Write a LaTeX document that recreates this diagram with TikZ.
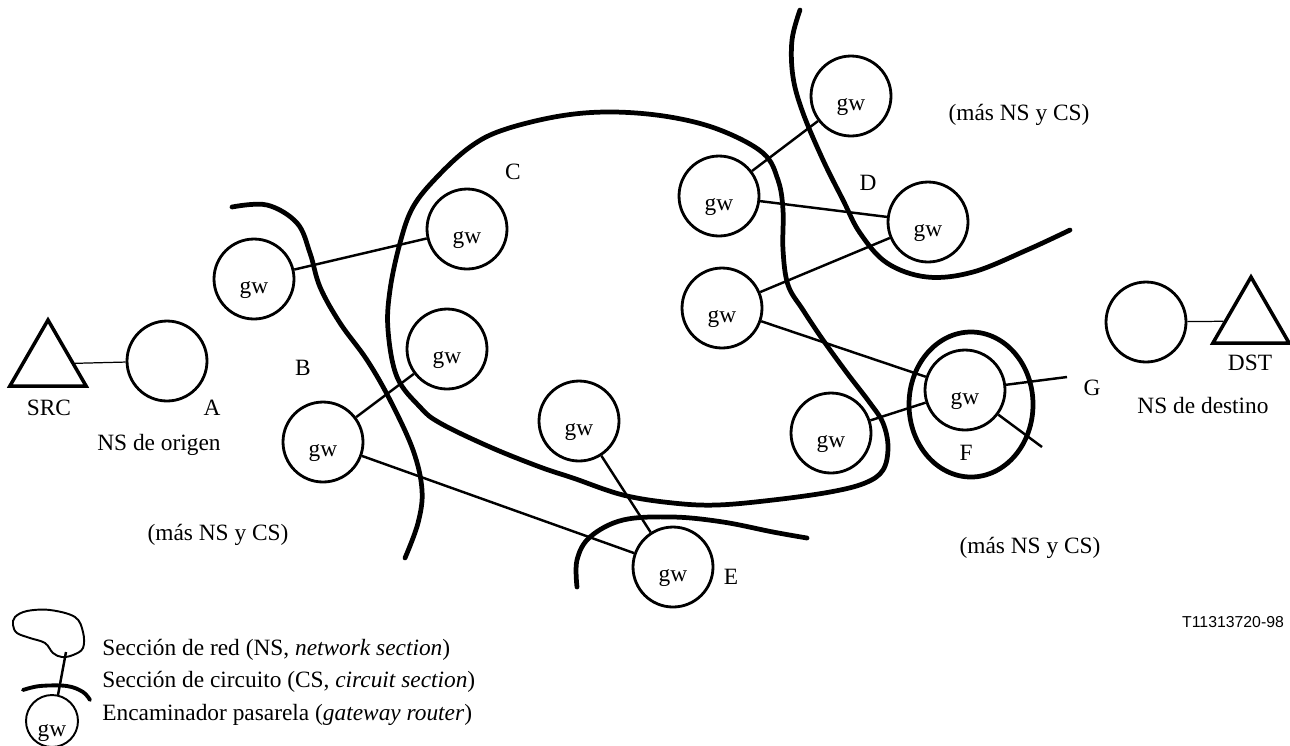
\documentclass[tikz,border=0pt]{standalone}
\usepackage{fontspec}
\setmainfont{Liberation Serif}
\newfontfamily\sansf{Liberation Sans}
\usetikzlibrary{shapes.geometric}
\begin{document}
\begin{tikzpicture}[x=0.02cm,y=-0.02cm,
  every node/.style={font=\fontsize{13.3}{16}\selectfont},
  gw/.style={circle,draw,line width=1.6pt,minimum size=1.6cm,inner sep=0pt,text height=16pt,text depth=0pt},
  ns/.style={circle,draw,line width=1.6pt,minimum size=1.6cm,inner sep=0pt},
  tri/.style={regular polygon,regular polygon sides=3,draw,line width=2pt,minimum size=1.76cm,inner sep=0pt},
  sect/.style={line width=2.7pt,line cap=round},
  link/.style={line width=1.4pt},
  thinlink/.style={line width=0.7pt},
  lbl/.style={inner sep=0pt}
]
\useasboundingbox (0,0) rectangle (1290,745);

% network/circuit section curves
\draw[sect] plot[smooth cycle,tension=0.6] coordinates {(613,112) (670,117) (720,130) (763,153) (778,180) (783,210) (783,250) (788,285) (803,310) (823,340) (847,373) (870,403) (883,423) (888,447) (883,470) (865,483) (830,492) (773,500) (717,505) (673,503) (623,495) (573,478) (540,467) (490,447) (440,423) (420,407) (397,377) (388,330) (390,290) (400,243) (413,207) (437,177) (470,147) (503,130) (560,116)};
\draw[sect] plot[smooth,tension=0.6] coordinates {(232,207) (267,205) (297,223) (310,253) (320,287) (340,323) (367,360) (390,400) (413,450) (422,490) (418,523) (405,558)};
\draw[sect] plot[smooth,tension=0.6] coordinates {(800,10) (792,40) (793,77) (803,113) (823,160) (843,200) (860,233) (887,263) (927,277) (973,272) (1027,250) (1070,230)};
\draw[sect] plot[smooth,tension=0.6] coordinates {(577,587) (577,560) (590,537) (623,520) (673,517) (723,522) (773,532) (807,538)};
\draw[sect] (971,404.5) ellipse [x radius=62, y radius=72.5];

% source and destination
\node[tri] (src) at (48,364) {};
\node[ns] (A) at (167,361) {};
\node[ns] (dstns) at (1146,322) {};
\node[tri] (dst) at (1251,321) {};
\draw[thinlink] (src) -- (A);
\draw[thinlink] (dstns) -- (dst);

% gateways
\node[gw] (g2) at (254,279) {gw};
\node[gw] (g3) at (467,229) {gw};
\node[gw] (g4) at (447,349) {gw};
\node[gw] (g5) at (323,442) {gw};
\node[gw] (g6) at (579,421) {gw};
\node[gw] (g7) at (673,567) {gw};
\node[gw] (g8) at (719,196) {gw};
\node[gw] (g9) at (851,96) {gw};
\node[gw] (g10) at (928,222) {gw};
\node[gw] (g11) at (722,308) {gw};
\node[gw] (g12) at (831,433) {gw};
\node[gw] (g13) at (965,390) {gw};
\coordinate (gstub) at (1067,377);
\coordinate (fstub) at (1042,447);

\draw[link] (g2) -- (g3);
\draw[link] (g5) -- (g4);
\draw[link] (g5) -- (g7);
\draw[link] (g6) -- (g7);
\draw[link] (g8) -- (g9);
\draw[link] (g8) -- (g10);
\draw[link] (g11) -- (g10);
\draw[link] (g11) -- (g13);
\draw[link] (g12) -- (g13);
\draw[link] (g13) -- (gstub);
\draw[link] (g13) -- (fstub);

% labels
\node[lbl] (tsrc) at (49,408) {SRC};
\node[lbl] (tA) at (212,408) {A};
\node[lbl] (tnso) at (159,445) {NS de origen};
\node[lbl] (tB) at (303,368) {B};
\node[lbl] (tC) at (513,172) {C};
\node[lbl] (tD) at (868,183) {D};
\node[lbl] (tE) at (731,577) {E};
\node[lbl] (tF) at (966,453) {F};
\node[lbl] (tG) at (1092,388) {G};
\node[lbl] (tdst) at (1250,363) {DST};
\node[lbl] (tnsd) at (1203,405) {NS de destino};
\node[lbl] (tm1) at (218,535) {(más NS y CS)};
\node[lbl] (tm2) at (1019,115) {(más NS y CS)};
\node[lbl] (tm3) at (1030,548) {(más NS y CS)};
\node[lbl,font=\sansf\fontsize{9}{11}\selectfont] (tref) at (1233,622) {T11313720-98};

% legend
\draw[line width=1.1pt] plot[smooth cycle,tension=0.6] coordinates {(15,617) (27,611) (50,610) (75,617) (83,632) (83,648) (73,655) (62,657) (53,653) (45,643) (30,638) (17,633) (13,625)};
\coordinate (lb1) at (66,652);
\coordinate (lb2) at (58,695);
\draw[link] (lb1) -- (lb2);
\draw[line width=2.2pt,line cap=round] plot[smooth,tension=0.6] coordinates {(23,690) (40,686) (67,686) (83,692) (90,700)};
\node[gw,minimum size=1.04cm,line width=1.1pt,text height=17.5pt] (lgw) at (52,721) {gw};
\node[lbl,anchor=base west] (l1) at (102,655) {Sección de red (NS, \textit{network section})};
\node[lbl,anchor=base west] (l2) at (102,687) {Sección de circuito (CS, \textit{circuit section})};
\node[lbl,anchor=base west] (l3) at (102,720) {Encaminador pasarela (\textit{gateway router})};
\end{tikzpicture}
\end{document}
